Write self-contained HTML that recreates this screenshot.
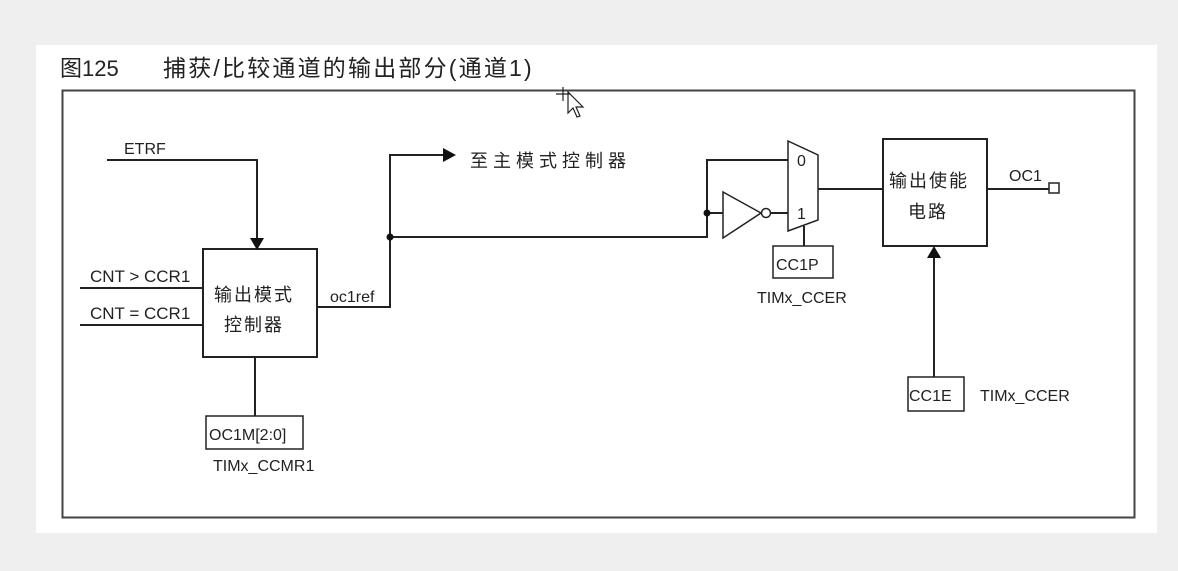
<!DOCTYPE html>
<html><head><meta charset="utf-8"><style>
html,body{margin:0;padding:0;background:#efefef;}
body{width:1178px;height:571px;position:relative;overflow:hidden;}
svg{position:absolute;left:0;top:0;}
text{font-family:"Liberation Sans","Noto Sans CJK SC",sans-serif;fill:#222;}
</style></head><body>
<svg width="1178" height="571" viewBox="0 0 1178 571">
<rect x="36" y="45" width="1121" height="488" fill="#fff"/>
<text x="60" y="76" font-size="22">图125</text>
<text x="163" y="76" font-size="23" letter-spacing="2.2">捕获/比较通道的输出部分(通道1)</text>
<rect x="62.5" y="90.5" width="1072" height="427" fill="none" stroke="#444" stroke-width="2"/>
<g stroke="#222" stroke-width="2" fill="none">
<polyline points="107,160 257,160 257,240"/>
<line x1="80" y1="288" x2="203" y2="288"/>
<line x1="80" y1="325" x2="203" y2="325"/>
<rect x="203" y="249" width="114" height="108"/>
<line x1="255" y1="357" x2="255" y2="416"/>
<rect x="206" y="416" width="97" height="33" stroke-width="1.5"/>
<polyline points="317,307 390,307 390,155 445,155"/>
<polyline points="390,237 707,237 707,160 788,160"/>
<line x1="707" y1="213" x2="723" y2="213"/>
<polygon points="723,192 723,238 761,213" stroke-width="1.5"/>
<circle cx="766" cy="213" r="4.5" stroke-width="1.5"/>
<line x1="770" y1="213" x2="788" y2="213"/>
<polygon points="788,141 818,155 818,220 788,231" stroke-width="1.5"/>
<line x1="804" y1="226" x2="804" y2="246"/>
<rect x="773" y="246" width="60" height="32" stroke-width="1.5"/>
<line x1="818" y1="189" x2="883" y2="189"/>
<rect x="883" y="139" width="104" height="107"/>
<line x1="987" y1="189" x2="1049" y2="189"/>
<rect x="1049" y="183" width="10" height="10" stroke-width="1.5"/>
<line x1="934" y1="256" x2="934" y2="377"/>
<rect x="908" y="377" width="56" height="34" stroke-width="1.5"/>
</g>
<g fill="#111">
<polygon points="250,238 264,238 257,250"/>
<polygon points="443,148 443,162 456,155"/>
<polygon points="927,258 941,258 934,246"/>
<circle cx="390" cy="237" r="3.5"/>
<circle cx="707" cy="213" r="3.5"/>
</g>
<g font-size="16">
<text x="124" y="154">ETRF</text>
<text x="90" y="282" font-size="17">CNT &gt; CCR1</text>
<text x="90" y="319" font-size="17">CNT = CCR1</text>
<text x="330" y="302">oc1ref</text>
<text x="209" y="440">OC1M[2:0]</text>
<text x="213" y="471">TIMx_CCMR1</text>
<text x="797" y="166">0</text>
<text x="797" y="219">1</text>
<text x="776" y="270">CC1P</text>
<text x="757" y="303">TIMx_CCER</text>
<text x="1009" y="181">OC1</text>
<text x="909" y="401">CC1E</text>
<text x="980" y="401">TIMx_CCER</text>
</g>
<g font-size="18">
<text x="214" y="301" letter-spacing="2">输出模式</text>
<text x="224" y="331" letter-spacing="2">控制器</text>
<text x="889" y="187" letter-spacing="2">输出使能</text>
<text x="908" y="218" letter-spacing="2">电路</text>
<text x="470" y="167" letter-spacing="5">至主模式控制器</text>
</g>
<g stroke="#222" stroke-width="1.2" fill="#fff">
<path d="M568,92 L568,113 L573,108 L577,117 L580,116 L576,107 L583,107 Z"/>
<path d="M556,94 h14 M563,87 v14" fill="none"/>
</g>
</svg>
</body></html>
